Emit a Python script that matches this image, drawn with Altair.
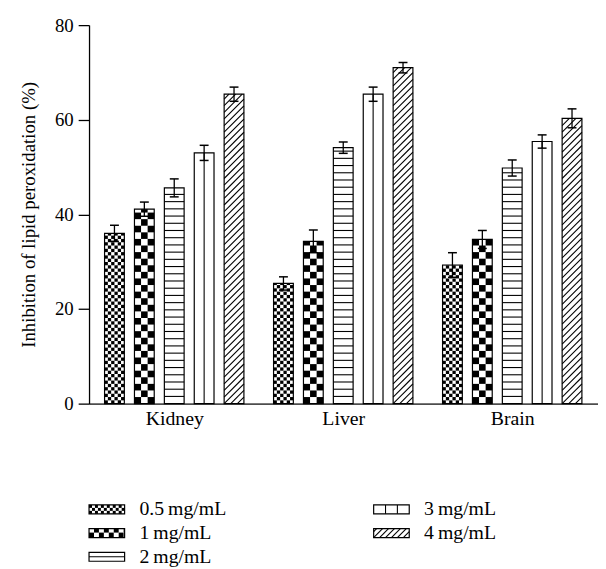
import json
import altair as alt
import numpy as np
import pandas as pd

# ---------------- data ----------------
tissues = ["Kidney", "Liver", "Brain"]
doses = ["0.5\u2009mg/mL", "1\u2009mg/mL", "2\u2009mg/mL", "3\u2009mg/mL", "4\u2009mg/mL"]
kidney = [36.0, 41.1, 45.6, 53.0, 65.4]
liver = [25.4, 34.3, 54.1, 65.4, 71.0]
brain = [29.3, 34.7, 49.8, 55.4, 60.3]
kidney_err = [1.7, 1.5, 1.9, 1.6, 1.5]
liver_err = [1.4, 2.4, 1.2, 1.5, 1.1]
brain_err = [2.6, 1.9, 1.7, 1.4, 2.0]
y_ticks = [0, 20, 40, 60, 80]

values = [kidney, liver, brain]
errors = [kidney_err, liver_err, brain_err]

# ---------------- layout / style ----------------
W, H = 515, 383
Y_MAX = 80
GROUP_STEP = 5.653          # bar slots between group starts
X_DOMAIN = [-0.85, 16.175]
PXX = W / (X_DOMAIN[1] - X_DOMAIN[0])
PXY = H / Y_MAX
BAR_W_PX = 20
BAR_W = BAR_W_PX / PXX
CAP = 9 / PXX
FONT = "Liberation Serif"

bar_styles = [("checker", 20 / 6), ("checker", 20 / 3), ("hlines", 7.3), ("vlines", 10), ("diag", 6.7)]
legend_styles = [("checker", 3), ("checker", 5), ("hlines", 4.5), ("vlines", 12), ("diag", 6)]

SVG_H = 561
LEG_COL_X = [0, 288]
LEG_TEXT_DX = 51
LEG_ROW_Y = 490
LEG_ROW_STEP = 24
SW_W, SW_H = 36, 9


def pattern(kind, w, h, s):
    """Pattern primitives in local px, y measured upward from the bottom."""
    rects, segs = [], []
    if h <= 0:
        return rects, segs
    if kind == "checker":
        nc = int(np.ceil(w / s - 1e-6))
        nr = int(np.ceil(h / s - 1e-6))
        for r in range(nr):
            for c in range(nc):
                if (r + c) % 2 == 0:
                    rects.append((c * s, min((c + 1) * s, w), r * s, min((r + 1) * s, h)))
    elif kind == "hlines":
        y = s
        while y < h - 0.5:
            segs.append((0, y, w, y))
            y += s
    elif kind == "vlines":
        x = s
        while x < w - 0.5:
            segs.append((x, 0, x, h))
            x += s
    elif kind == "diag":
        k0 = int(np.floor(-w / s))
        k1 = int(np.ceil(h / s))
        for k in range(k0, k1 + 1):
            c = k * s
            xa = max(0.0, -c)
            xb = min(w, h - c)
            if xb - xa > 0.3:
                segs.append((xa, xa + c, xb, xb + c))
    return rects, segs


# ---------------- main chart tables ----------------
bar_rows, prects, psegs = [], [], []
for i, t in enumerate(tissues):
    for j, d in enumerate(doses):
        v = values[i][j]
        e = errors[i][j]
        xc = i * GROUP_STEP + j
        x0 = xc - BAR_W / 2
        x1 = xc + BAR_W / 2
        bar_rows.append(dict(tissue=t, dose=d, value=v, lo=v - e, hi=v + e, xc=xc,
                             x0=x0, x1=x1, c0=xc - CAP / 2, c1=xc + CAP / 2, base=0))
        kind, s = bar_styles[j]
        rects, segs = pattern(kind, BAR_W_PX, v * PXY, s)
        for a, b, c, dd in rects:
            prects.append(dict(x0=x0 + a / PXX, x1=x0 + b / PXX, y0=c / PXY, y1=dd / PXY))
        for a, b, c, dd in segs:
            psegs.append(dict(x0=x0 + a / PXX, y0=b / PXY, x1=x0 + c / PXX, y1=dd / PXY))

bars_df = pd.DataFrame(bar_rows)
prect_df = pd.DataFrame(prects)
pseg_df = pd.DataFrame(psegs)

centers = [i * GROUP_STEP + (len(doses) - 1) / 2 for i in range(len(tissues))]
label_expr = f"{json.dumps(tissues)}[round((datum.value - {centers[0]}) / {GROUP_STEP})]"

xs = alt.Scale(domain=X_DOMAIN, nice=False, zero=False)
ys = alt.Scale(domain=[0, Y_MAX], nice=False, zero=False)

x_axis = alt.Axis(values=centers, labelExpr=label_expr, ticks=False, tickSize=0,
                  domainColor="#4d4d4d", domainWidth=2, labelFont=FONT, labelFontSize=20,
                  labelColor="black", labelPadding=5, grid=False, title=None,
                  labelFlush=False, labelOverlap=False)
y_axis = alt.Axis(values=y_ticks, title="Inhibition of lipid peroxidation (%)", tickSize=11,
                  tickColor="black", tickWidth=1.3, domainColor="black", domainWidth=1.3,
                  labelFont=FONT, labelFontSize=19, labelColor="black", labelPadding=5,
                  titleFont=FONT, titleFontSize=19, titleFontWeight="normal", titleColor="black",
                  titlePadding=16, grid=False)


def X(field):
    return alt.X(field, scale=xs, axis=x_axis)


def Y(field):
    return alt.Y(field, scale=ys, axis=y_axis)


bar_fill = alt.Chart(bars_df).mark_rect(fill="white").encode(
    x=X("x0:Q"), x2="x1:Q", y=Y("base:Q"), y2="value:Q")

pat_rect = alt.Chart(prect_df).mark_rect(color="black").encode(
    x=X("x0:Q"), x2="x1:Q", y=Y("y0:Q"), y2="y1:Q")

pat_seg = alt.Chart(pseg_df).mark_rule(color="black", strokeWidth=1.1).encode(
    x=X("x0:Q"), x2="x1:Q", y=Y("y0:Q"), y2="y1:Q")

bar_outline = alt.Chart(bars_df).mark_rect(fill="white", fillOpacity=0, stroke="black",
                                           strokeWidth=1.2).encode(
    x=X("x0:Q"), x2="x1:Q", y=Y("base:Q"), y2="value:Q")

err_v = alt.Chart(bars_df).mark_rule(color="black", strokeWidth=1.3).encode(
    x=X("xc:Q"), y=Y("lo:Q"), y2="hi:Q")
err_top = alt.Chart(bars_df).mark_rule(color="black", strokeWidth=1.5).encode(
    x=X("c0:Q"), x2="c1:Q", y=Y("hi:Q"))
err_bot = alt.Chart(bars_df).mark_rule(color="black", strokeWidth=1.5).encode(
    x=X("c0:Q"), x2="c1:Q", y=Y("lo:Q"))

main = alt.layer(bar_fill, pat_rect, pat_seg, bar_outline, err_v, err_top, err_bot)

# ---------------- legend (pattern swatches) ----------------
leg_rows, lrects, lsegs = [], [], []
for k, d in enumerate(doses):
    col, row = k // 3, k % 3
    sx0 = LEG_COL_X[col]
    cy = LEG_ROW_Y + row * LEG_ROW_STEP
    sy0, sy1 = cy - SW_H / 2, cy + SW_H / 2
    leg_rows.append(dict(label=d, sx0=sx0, sx1=sx0 + SW_W, sy0=sy0, sy1=sy1,
                         tx=sx0 + LEG_TEXT_DX, ty=cy))
    kind, s = legend_styles[k]
    rects, segs = pattern(kind, SW_W, SW_H, s)
    for a, b, c, dd in rects:
        lrects.append(dict(x0=sx0 + a, x1=sx0 + b, y0=sy1 - c, y1=sy1 - dd))
    for a, b, c, dd in segs:
        lsegs.append(dict(x0=sx0 + a, y0=sy1 - b, x1=sx0 + c, y1=sy1 - dd))

leg_df = pd.DataFrame(leg_rows)
lrect_df = pd.DataFrame(lrects)
lseg_df = pd.DataFrame(lsegs)

lxs = alt.Scale(domain=[0, W], range=[0, W], nice=False, zero=False)
lys = alt.Scale(domain=[0, SVG_H], range=[0, SVG_H], nice=False, zero=False)


def LX(field):
    return alt.X(field, scale=lxs, axis=None)


def LY(field):
    return alt.Y(field, scale=lys, axis=None)


leg_fill = alt.Chart(leg_df).mark_rect(fill="white").encode(
    x=LX("sx0:Q"), x2="sx1:Q", y=LY("sy0:Q"), y2="sy1:Q")
leg_prect = alt.Chart(lrect_df).mark_rect(color="black").encode(
    x=LX("x0:Q"), x2="x1:Q", y=LY("y0:Q"), y2="y1:Q")
leg_pseg = alt.Chart(lseg_df).mark_rule(color="black", strokeWidth=1.1).encode(
    x=LX("x0:Q"), x2="x1:Q", y=LY("y0:Q"), y2="y1:Q")
leg_outline = alt.Chart(leg_df).mark_rect(fill="white", fillOpacity=0, stroke="black",
                                          strokeWidth=1.2).encode(
    x=LX("sx0:Q"), x2="sx1:Q", y=LY("sy0:Q"), y2="sy1:Q")
leg_text = alt.Chart(leg_df).mark_text(align="left", baseline="middle", font=FONT,
                                       fontSize=20, color="black").encode(
    x=LX("tx:Q"), y=LY("ty:Q"), text="label:N")

legend = alt.layer(leg_fill, leg_prect, leg_pseg, leg_outline, leg_text)

chart = alt.layer(main, legend).resolve_scale(
    x="independent", y="independent"
).properties(
    width=W, height=H,
    autosize=alt.AutoSizeParams(type="none"),
    padding={"left": 82, "top": 14, "right": 0, "bottom": SVG_H - 14 - H},
).configure_view(stroke=None)

chart.save("out.html", embed_options={"renderer": "svg", "actions": False})
